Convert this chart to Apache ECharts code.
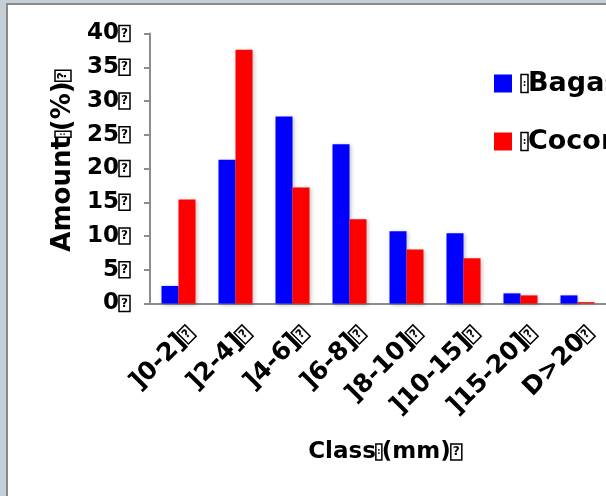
<!DOCTYPE html>
<html>
<head>
<meta charset="utf-8">
<script src="https://cdn.jsdelivr.net/npm/echarts@6/dist/echarts.min.js"></script>
<style>
  html, body { margin: 0; padding: 0; width: 606px; height: 496px; overflow: hidden; background: #c4cfd7; }
  #frame { position: absolute; left: 6px; top: 3px; width: 640px; height: 540px; background: #fff;
           border-left: 2px solid #8a8a8a; border-top: 2px solid #8a8a8a; }
  #chart { position: absolute; left: 0; top: 0; width: 606px; height: 496px; }
</style>
</head>
<body>
<div id="frame"></div>
<div id="chart"></div>
<script>
const categories = [']0-2]', ']2-4]', ']4-6]', ']6-8]', ']8-10]', ']10-15]', ']15-20]', 'D>20'];
const bagasse = [2.6, 21.3, 27.7, 23.6, 10.7, 10.4, 1.5, 1.2];
const coconut = [15.4, 37.6, 17.2, 12.5, 8.0, 6.7, 1.2, 0.2];
const seriesNames = ['Bagasse', 'Coconut'];
const yTicks = [0, 5, 10, 15, 20, 25, 30, 35, 40];

const FONT = 'DejaVu Sans';
// boxed "?" and narrow boxed glyph (missing-character marks of the original)
const Q = '{q|?}';
const N = '{n|:}';
const rich = {
  q: { fontFamily: FONT, fontWeight: 'bold', fontSize: 12, color: '#000', width: 9, height: 16, lineHeight: 16,
       align: 'center', verticalAlign: 'middle', borderColor: '#000', borderWidth: 1.5, padding: [0, 1, 0, 1] },
  n: { fontFamily: FONT, fontWeight: 'bold', fontSize: 8, color: '#000', width: 4, height: 16, lineHeight: 16,
       align: 'center', verticalAlign: 'middle', borderColor: '#000', borderWidth: 1.5, padding: [0, 1, 0, 1] }
};
const legendRich = {
  n: { fontFamily: FONT, fontWeight: 'bold', fontSize: 9, color: '#000', width: 5, height: 18, lineHeight: 18,
       align: 'center', verticalAlign: 'middle', borderColor: '#000', borderWidth: 1.5, padding: [0, 1, 0, 1] }
};
const chart = echarts.init(document.getElementById('chart'), null, { renderer: 'canvas' });
const barStyle = (c) => ({ color: c, shadowBlur: 4, shadowColor: 'rgba(0,0,0,0.25)', shadowOffsetX: 1, shadowOffsetY: 1 });
chart.setOption({
  animation: false,
  backgroundColor: 'transparent',
  grid: { left: 150, top: 33.5, width: 458.5, height: 270, containLabel: false },
  legend: {
    orient: 'vertical', left: 494, top: 70, padding: 0,
    icon: 'rect', itemWidth: 18, itemHeight: 18, itemGap: 31,
    textStyle: { fontFamily: FONT, fontWeight: 'bold', fontSize: 27, color: '#000', rich: legendRich, padding: [0, 0, 0, 4] },
    formatter: (n) => '{n|:}' + n,
    data: seriesNames
  },
  xAxis: {
    type: 'category',
    data: categories,
    name: 'Class' + N + '(mm)' + Q,
    nameLocation: 'middle', nameGap: 137,
    nameTextStyle: { fontFamily: FONT, fontWeight: 'bold', fontSize: 23, color: '#000', padding: [0, 0, 0, 14], rich: rich },
    axisLine: { lineStyle: { color: '#8c8c8c', width: 2 } },
    axisTick: { length: 9, lineStyle: { color: '#8c8c8c', width: 2 } },
    axisLabel: { rotate: 45, interval: 0, margin: 15, verticalAlign: 'top', lineHeight: 34,
                 fontFamily: FONT, fontWeight: 'bold', fontSize: 25, color: '#000', rich: rich,
                 formatter: (v) => v + Q }
  },
  yAxis: {
    type: 'value', min: yTicks[0], max: yTicks[yTicks.length - 1], interval: 5,
    name: 'Amount' + N + '(%)' + Q,
    nameLocation: 'middle', nameGap: 74,
    nameTextStyle: { fontFamily: FONT, fontWeight: 'bold', fontSize: 26, color: '#000', padding: [0, 0, 0, 15], rich: rich },
    splitLine: { show: false },
    axisLine: { show: true, lineStyle: { color: '#8c8c8c', width: 2 } },
    axisTick: { show: true, length: 6, lineStyle: { color: '#8c8c8c', width: 2 } },
    axisLabel: { margin: 20, fontFamily: FONT, fontWeight: 'bold', fontSize: 23, color: '#000', rich: rich,
                 formatter: (v) => v + Q }
  },
  series: [
    { name: seriesNames[0], type: 'bar', data: bagasse, barWidth: 17, barGap: '0%', itemStyle: barStyle('#0000ff') },
    { name: seriesNames[1], type: 'bar', data: coconut, barWidth: 17, barGap: '0%', itemStyle: barStyle('#ff0000') }
  ]
});
</script>
</body>
</html>
